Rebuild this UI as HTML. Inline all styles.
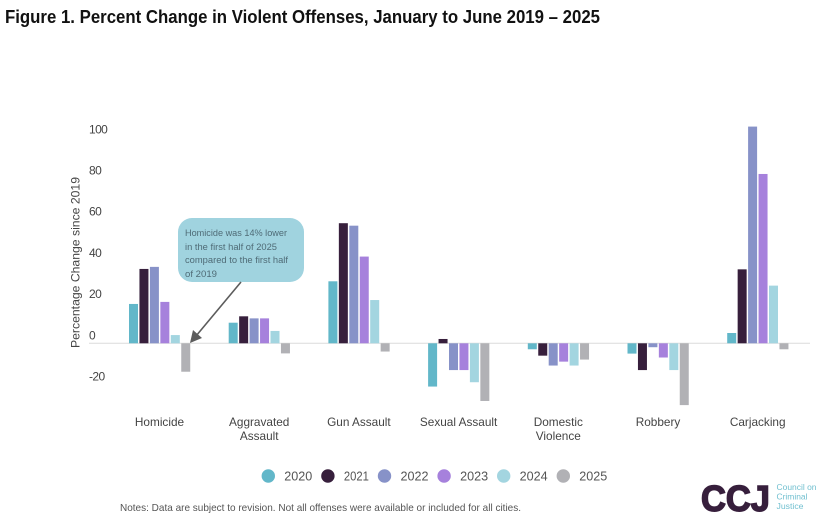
<!DOCTYPE html>
<html>
<head>
<meta charset="utf-8">
<style>
html,body{margin:0;padding:0;background:#fff}
svg{display:block}
text{font-family:"Liberation Sans",sans-serif}
</style>
</head>
<body>
<svg id="chart" width="834" height="529" viewBox="0 0 834 529" xmlns="http://www.w3.org/2000/svg">
<rect width="834" height="529" fill="#fff"/>
<text x="5" y="23" font-size="18.5" font-weight="bold" fill="#111" textLength="595" lengthAdjust="spacingAndGlyphs">Figure 1. Percent Change in Violent Offenses, January to June 2019 – 2025</text>
<text transform="translate(79.5,348) rotate(-90)" font-size="12" fill="#444" textLength="171" lengthAdjust="spacingAndGlyphs">Percentage Change since 2019</text>
<line x1="89" x2="810" y1="343.3" y2="343.3" stroke="#dcdcdc" stroke-width="1"/>
<g id="ticks"></g>
<g id="bars"></g>
<g id="cats"></g>
<g id="legend"></g>
<g>
<rect x="178" y="218" width="126" height="64" rx="14" fill="#a0d3df"/>
<line x1="241" y1="282" x2="196" y2="336" stroke="#5c5c5c" stroke-width="1.6"/>
<polygon points="190,343 193,330 202,338" fill="#5c5c5c"/>
<text font-size="9.5" fill="#4f6b76">
<tspan x="185" y="236" textLength="102" lengthAdjust="spacingAndGlyphs">Homicide was 14% lower</tspan>
<tspan x="185" y="250" textLength="92" lengthAdjust="spacingAndGlyphs">in the first half of 2025</tspan>
<tspan x="185" y="263" textLength="103" lengthAdjust="spacingAndGlyphs">compared to the first half</tspan>
<tspan x="185" y="277" textLength="32" lengthAdjust="spacingAndGlyphs">of 2019</tspan>
</text>
</g>
<text x="120" y="511" font-size="10.5" fill="#555" textLength="401" lengthAdjust="spacingAndGlyphs">Notes: Data are subject to revision. Not all offenses were available or included for all cities.</text>
<g>
<text x="701" y="511" font-size="36" font-weight="bold" fill="#371f3c" stroke="#371f3c" stroke-width="1.5" textLength="69" lengthAdjust="spacingAndGlyphs">CCJ</text>
<text x="776.5" y="490" font-size="8.5" fill="#72c0d0" textLength="40" lengthAdjust="spacingAndGlyphs">Council on</text>
<text x="776.5" y="499.5" font-size="8.5" fill="#72c0d0" textLength="31" lengthAdjust="spacingAndGlyphs">Criminal</text>
<text x="776.5" y="509" font-size="8.5" fill="#72c0d0" textLength="27" lengthAdjust="spacingAndGlyphs">Justice</text>
</g>
</svg>
<script>
const categories = [["Homicide"],["Aggravated","Assault"],["Gun Assault"],["Sexual Assault"],["Domestic","Violence"],["Robbery"],["Carjacking"]];
const years = ["2020","2021","2022","2023","2024","2025"];
const colors = ["#62b7c9","#371f3c","#8792c8","#a681dc","#a3d5e0","#b1b1b5"];
const yTicks = [100,80,60,40,20,0,-20];
const v2020 = [19.1,10,30.1,-21,-2.9,-5,5];
const v2021 = [36.1,13.1,58.3,2.1,-6,-13,35.9];
const v2022 = [37.1,12.1,57.1,-13,-10.8,-1.9,105.2];
const v2023 = [20.1,12.1,42.1,-13,-8.9,-6.9,82.2];
const v2024 = [4,6,21,-18.9,-10.8,-13,28];
const v2025 = [-13.8,-4.9,-4,-28,-7.9,-30,-2.9];
const series = [v2020,v2021,v2022,v2023,v2024,v2025];

const NS = "http://www.w3.org/2000/svg";
function mk(tag, attrs, parent, txt){
  const el = document.createElementNS(NS, tag);
  for (const k in attrs) el.setAttribute(k, attrs[k]);
  if (txt !== undefined) el.textContent = txt;
  parent.appendChild(el);
  return el;
}
function y(v){ return 343.3 - v * 2.06; }
function groupX(i){ return 129 + i * 99.7; }
function barX(i, s){ return groupX(i) + s * 10.45; }

const ticksG = document.getElementById("ticks");
yTicks.forEach(function(t){
  const el = mk("text", {x:89, y:y(t)-4, "font-size":12, fill:"#444", "letter-spacing":"-0.6"}, ticksG, String(t));
  
  
});

const barsG = document.getElementById("bars");
series.forEach(function(vals, s){
  vals.forEach(function(v, i){
    const top = Math.min(y(v), y(0));
    const el = mk("rect", {x:barX(i,s), y:top, width:9, height:Math.abs(y(v)-y(0)), fill:colors[s]}, barsG);
    
    
  });
});

const catsG = document.getElementById("cats");
categories.forEach(function(lines, i){
  lines.forEach(function(line, j){
    const el = mk("text", {x:groupX(i)+30.5, y:426+j*14, "font-size":11.8, fill:"#444", "text-anchor":"middle"}, catsG, line);
    
    
  });
});

const legendG = document.getElementById("legend");
let legendCursor = 268.3;
years.forEach(function(yr, s){
  const labelWidth = yr === "2021" ? 25 : 28;
  const dot = mk("circle", {cx:legendCursor, cy:476, r:6.7, fill:colors[s]}, legendG);
  
  
  const el = mk("text", {x:legendCursor+16, y:480.5, "font-size":12.5, fill:"#555", textLength:labelWidth, lengthAdjust:"spacingAndGlyphs"}, legendG, yr);
  
  
  legendCursor += 16 + labelWidth + 15.6;
});
</script>
</body>
</html>
